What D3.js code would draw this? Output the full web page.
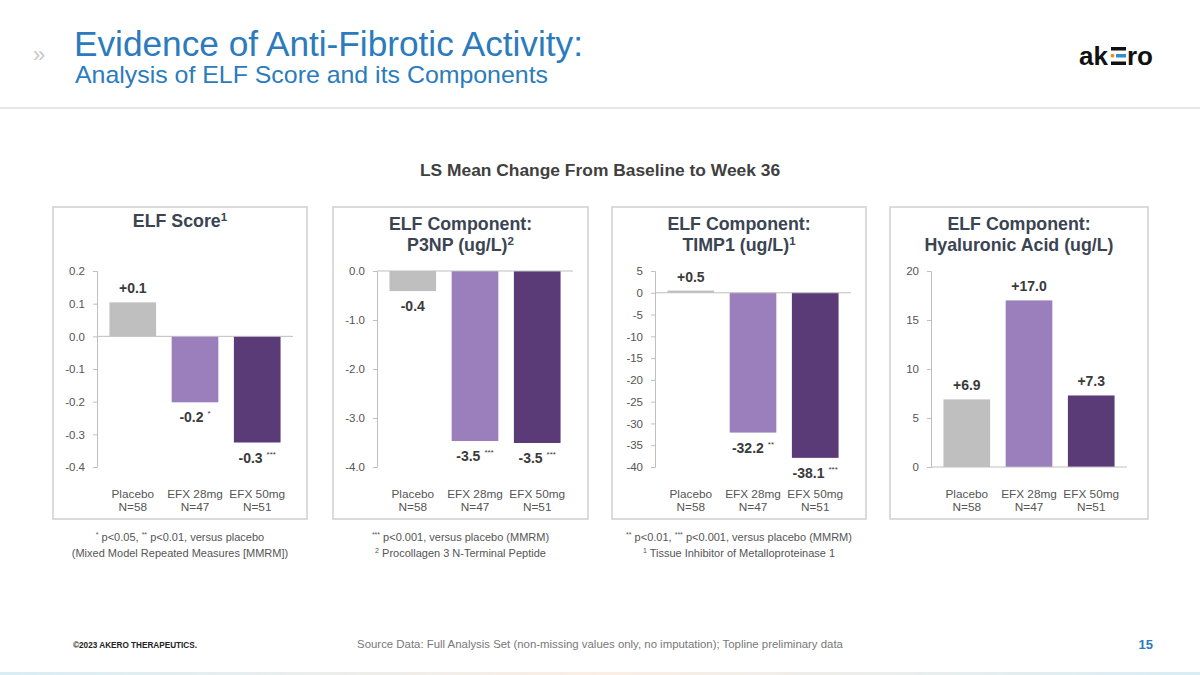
<!DOCTYPE html>
<html>
<head>
<meta charset="utf-8">
<script src="https://cdn.jsdelivr.net/npm/d3@7"></script>
<style>
  body { margin: 0; background: #fff; }
  svg { display: block; font-family: Arial, "Liberation Sans", sans-serif; }
</style>
</head>
<body>
<div id="container"></div>
<script>
// Data
const groups = ["Placebo", "EFX 28mg", "EFX 50mg"];
const groupN = ["N=58", "N=47", "N=51"];
const barColors = ["#bfbfbf", "#9b7fbd", "#5a3b78"];

const elfValues = [0.104, -0.202, -0.325];
const p3npValues = [-0.41, -3.47, -3.51];
const timp1Values = [0.5, -32.1, -37.9];
const haValues = [6.9, 17.0, 7.3];

const elfLabels = ["+0.1", "-0.2", "-0.3"];
const p3npLabels = ["-0.4", "-3.5", "-3.5"];
const timp1Labels = ["+0.5", "-32.2", "-38.1"];
const haLabels = ["+6.9", "+17.0", "+7.3"];

const elfStars = ["", "*", "***"];
const p3npStars = ["", "***", "***"];
const timp1Stars = ["", "**", "***"];
const haStars = ["", "", ""];

const elfTicks = [0.2, 0.1, 0.0, -0.1, -0.2, -0.3, -0.4];
const p3npTicks = [0.0, -1.0, -2.0, -3.0, -4.0];
const timp1Ticks = [5, 0, -5, -10, -15, -20, -25, -30, -35, -40];
const haTicks = [20, 15, 10, 5, 0];

const footnotes = [
  [["*", " p<0.05, "], ["**", " p<0.01, versus placebo"]],
  [["***", " p<0.001, versus placebo (MMRM)"]],
  [["**", " p<0.01, "], ["***", " p<0.001, versus placebo (MMRM)"]]
];
const footnotes2 = [
  [["", "(Mixed Model Repeated Measures [MMRM])"]],
  [["2", " Procollagen 3 N-Terminal Peptide"]],
  [["1", " Tissue Inhibitor of Metalloproteinase 1"]]
];

const panels = [
  { title: [["ELF Score", "1"]], values: elfValues, labels: elfLabels, stars: elfStars,
    ticks: elfTicks, fmt: d3.format(".1f"), box: [53, 307], axisX: 97 },
  { title: [["ELF Component:", ""], ["P3NP (ug/L)", "2"]], values: p3npValues, labels: p3npLabels, stars: p3npStars,
    ticks: p3npTicks, fmt: d3.format(".1f"), box: [333, 588], axisX: 377 },
  { title: [["ELF Component:", ""], ["TIMP1 (ug/L)", "1"]], values: timp1Values, labels: timp1Labels, stars: timp1Stars,
    ticks: timp1Ticks, fmt: d3.format("d"), box: [612, 866], axisX: 655 },
  { title: [["ELF Component:", ""], ["Hyaluronic Acid (ug/L)", ""]], values: haValues, labels: haLabels, stars: haStars,
    ticks: haTicks, fmt: d3.format("d"), box: [890, 1148], axisX: 931 }
];

const W = 1200, H = 675;
const svg = d3.select("#container").append("svg")
  .attr("width", W).attr("height", H);

// Header
svg.append("text")
  .attr("x", 33).attr("y", 62)
  .attr("fill", "#c8c8c8").attr("font-size", 22)
  .text("»");

svg.append("text")
  .attr("x", 74).attr("y", 56)
  .attr("fill", "#2b7bbd").attr("font-size", 35)
  .attr("textLength", 509).attr("lengthAdjust", "spacingAndGlyphs")
  .text("Evidence of Anti-Fibrotic Activity:");

svg.append("text")
  .attr("x", 75).attr("y", 83)
  .attr("fill", "#2b7bbd").attr("font-size", 24)
  .attr("textLength", 473).attr("lengthAdjust", "spacingAndGlyphs")
  .text("Analysis of ELF Score and its Components");

svg.append("line")
  .attr("x1", 0).attr("x2", W).attr("y1", 108).attr("y2", 108)
  .attr("stroke", "#dcdcdc").attr("stroke-width", 1.5);

// Logo
const logo = svg.append("g").attr("transform", "translate(1079,65)");
logo.append("text").attr("x", 0).attr("y", 0)
  .attr("font-size", 26).attr("font-weight", "bold").attr("fill", "#111")
  .text("ak");
logo.append("rect").attr("x", 32).attr("y", -18).attr("width", 15).attr("height", 3.5).attr("fill", "#111");
logo.append("rect").attr("x", 32).attr("y", -3.5).attr("width", 15).attr("height", 3.5).attr("fill", "#111");
logo.append("rect").attr("x", 37).attr("y", -11).attr("width", 10).attr("height", 3.5).attr("fill", "#2e8fd0");
logo.append("circle").attr("cx", 33.5).attr("cy", -9.3).attr("r", 1.9).attr("fill", "#f08a24");
logo.append("text").attr("x", 48).attr("y", 0)
  .attr("font-size", 26).attr("font-weight", "bold").attr("fill", "#111")
  .text("ro");

// Section heading
svg.append("text")
  .attr("x", 600).attr("y", 176)
  .attr("text-anchor", "middle")
  .attr("font-size", 17.4).attr("font-weight", "bold").attr("fill", "#404040")
  .text("LS Mean Change From Baseline to Week 36");

const yTop = 271, yBottom = 467;

panels.forEach((p, i) => {
  const g = svg.append("g");
  const [bx0, bx1] = p.box;
  const cx = (bx0 + bx1) / 2;

  g.append("rect")
    .attr("x", bx0).attr("y", 207)
    .attr("width", bx1 - bx0).attr("height", 312)
    .attr("fill", "none").attr("stroke", "#cfcfcf").attr("stroke-width", 1.5);

  // Title
  const lineY = p.title.length === 1 ? [227] : [230, 251];
  p.title.forEach((t, j) => {
    const tx = g.append("text")
      .attr("x", cx).attr("y", lineY[j])
      .attr("text-anchor", "middle")
      .attr("font-size", 17.8).attr("font-weight", "bold").attr("fill", "#3b4452");
    tx.append("tspan").text(t[0]);
    if (t[1]) tx.append("tspan").attr("font-size", 11.5).attr("dy", -6).text(t[1]);
  });

  const x = d3.scaleBand()
    .domain(groups)
    .range([p.axisX, p.axisX + 196])
    .paddingInner(0.25).paddingOuter(0.2);

  const y = d3.scaleLinear()
    .domain([d3.min(p.ticks), d3.max(p.ticks)])
    .range([yBottom, yTop]);

  // Bars
  g.selectAll("rect.bar")
    .data(p.values)
    .join("rect")
    .attr("class", "bar")
    .attr("x", (d, k) => x(groups[k]))
    .attr("width", x.bandwidth())
    .attr("y", d => y(Math.max(0, d)))
    .attr("height", d => Math.abs(y(d) - y(0)))
    .attr("fill", (d, k) => barColors[k]);

  // Y axis
  const yAxis = g.append("g")
    .attr("transform", `translate(${p.axisX},0)`)
    .call(d3.axisLeft(y).tickValues(p.ticks).tickFormat(p.fmt).tickSize(4).tickPadding(8));
  yAxis.select(".domain").attr("stroke", "#bfbfbf");
  yAxis.selectAll(".tick line").attr("stroke", "#bfbfbf");
  yAxis.selectAll(".tick text")
    .attr("font-size", 11.5).attr("fill", "#555")
    .attr("font-family", "Arial, 'Liberation Sans', sans-serif")
    .text(d => p.fmt(d).replace("−", "-"));

  // Zero line
  g.append("line")
    .attr("x1", p.axisX).attr("x2", p.axisX + 196)
    .attr("y1", y(0)).attr("y2", y(0))
    .attr("stroke", "#bfbfbf").attr("stroke-width", 1);

  // Value labels
  p.values.forEach((v, k) => {
    const bx = x(groups[k]) + x.bandwidth() / 2;
    const ly = v >= 0 ? y(v) - 9 : y(v) + 20;
    const t = g.append("text")
      .attr("x", bx).attr("y", ly)
      .attr("text-anchor", "middle")
      .attr("font-size", 14).attr("font-weight", "bold").attr("fill", "#3a3a3a");
    t.append("tspan").text(p.labels[k]);
    if (p.stars[k]) {
      t.append("tspan").attr("font-size", 8).attr("font-weight", "normal")
        .attr("dx", 4).attr("dy", -6).text(p.stars[k]);
    }
  });

  // Category labels
  groups.forEach((gname, k) => {
    const bx = x(gname) + x.bandwidth() / 2;
    g.append("text").attr("x", bx).attr("y", 498)
      .attr("text-anchor", "middle").attr("font-size", 11.8).attr("fill", "#555")
      .text(gname);
    g.append("text").attr("x", bx).attr("y", 511)
      .attr("text-anchor", "middle").attr("font-size", 11.8).attr("fill", "#555")
      .text(groupN[k]);
  });

  // Footnotes under first three panels
  if (i < 3) {
    [footnotes[i], footnotes2[i]].forEach((parts, j) => {
      const t = g.append("text")
        .attr("x", cx).attr("y", 541 + j * 16)
        .attr("text-anchor", "middle").attr("font-size", 11).attr("fill", "#555");
      parts.forEach(pt => {
        if (pt[0]) t.append("tspan").attr("font-size", 7).attr("dy", -4).text(pt[0]);
        t.append("tspan").attr("dy", pt[0] ? 4 : 0).text(pt[1]);
      });
    });
  }
});

// Footer
svg.append("text")
  .attr("x", 73).attr("y", 648)
  .attr("font-size", 8.2).attr("font-weight", "bold").attr("fill", "#222")
  .text("©2023 AKERO THERAPEUTICS.");

svg.append("text")
  .attr("x", 600).attr("y", 648)
  .attr("text-anchor", "middle").attr("font-size", 11.4).attr("fill", "#777")
  .text("Source Data: Full Analysis Set (non-missing values only, no imputation); Topline preliminary data");

svg.append("text")
  .attr("x", 1153).attr("y", 649)
  .attr("text-anchor", "end").attr("font-size", 13).attr("font-weight", "bold").attr("fill", "#2b7bbd")
  .text("15");

// Faint bottom rule
const grad = svg.append("defs").append("linearGradient").attr("id", "bottomGrad");
grad.append("stop").attr("offset", "0%").attr("stop-color", "#d9edf5");
grad.append("stop").attr("offset", "50%").attr("stop-color", "#fbeee4");
grad.append("stop").attr("offset", "100%").attr("stop-color", "#d9edf5");
svg.append("rect").attr("x", 0).attr("y", 672).attr("width", W).attr("height", 3)
  .attr("fill", "url(#bottomGrad)");
</script>
</body>
</html>
